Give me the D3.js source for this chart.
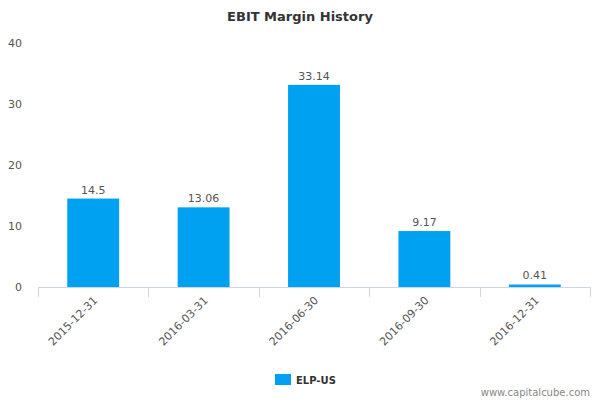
<!DOCTYPE html>
<html>
<head>
<meta charset="utf-8">
<script src="https://cdn.jsdelivr.net/npm/d3@7"></script>
<style>
  body { margin: 0; background: #fff; }
  text { font-family: "DejaVu Sans", sans-serif; }
</style>
</head>
<body>
<div id="chart"></div>
<script>
const categories = ["2015-12-31", "2016-03-31", "2016-06-30", "2016-09-30", "2016-12-31"]
const values = [14.5, 13.06, 33.14, 9.17, 0.41]
const yTicks = [0, 10, 20, 30, 40]
const seriesName = "ELP-US"

const width = 600, height = 400
const margin = { top: 43, right: 10, bottom: 113, left: 38 }
const blue = "#00a1f1"

const svg = d3.select("#chart").append("svg")
  .attr("width", width).attr("height", height)

const x = d3.scaleBand()
  .domain(categories)
  .range([margin.left, width - margin.right])
  .paddingInner(0.53).paddingOuter(0.265)

const y = d3.scaleLinear()
  .domain([0, 40])
  .range([height - margin.bottom, margin.top])

// title
svg.append("text")
  .attr("x", width / 2).attr("y", 21)
  .attr("text-anchor", "middle")
  .style("font-size", "13px").style("font-weight", "bold").style("fill", "#333")
  .text("EBIT Margin History")

// y labels
svg.selectAll(".ytick").data(yTicks).enter().append("text")
  .attr("x", 22).attr("y", d => y(d) + 4)
  .attr("text-anchor", "end")
  .style("font-size", "11px").style("fill", "#555")
  .text(d => d)

// bars
svg.selectAll(".bar").data(values).enter().append("rect")
  .attr("x", (d, i) => x(categories[i]))
  .attr("y", d => y(d))
  .attr("width", x.bandwidth())
  .attr("height", d => y(0) - y(d))
  .style("fill", blue)

svg.selectAll(".val").data(values).enter().append("text")
  .attr("x", (d, i) => x(categories[i]) + x.bandwidth() / 2)
  .attr("y", d => y(d) - 5)
  .attr("text-anchor", "middle")
  .style("font-size", "11px").style("fill", "#555")
  .text(d => d)

// x axis
const step = x.step()
const xAxis = svg.append("g")
xAxis.append("line")
  .attr("x1", margin.left).attr("x2", width - margin.right)
  .attr("y1", y(0) + 0.5).attr("y2", y(0) + 0.5)
  .style("stroke", "#ccd6eb")
d3.range(categories.length + 1).forEach(i => {
  const tx = Math.round(margin.left + i * step) + 0.5
  xAxis.append("line")
    .attr("x1", tx).attr("x2", tx)
    .attr("y1", y(0)).attr("y2", y(0) + 10)
    .style("stroke", "#ccd6eb")
})
xAxis.selectAll(".xl").data(categories).enter().append("text")
  .attr("transform", d => `translate(${x(d) + x.bandwidth() / 2 + 5},${y(0) + 14}) rotate(-45)`)
  .attr("text-anchor", "end")
  .style("font-size", "11px").style("fill", "#555")
  .text(d => d)

// legend
svg.append("rect")
  .attr("x", 275).attr("y", 374).attr("width", 16).attr("height", 11)
  .style("fill", blue)
svg.append("text")
  .attr("x", 296).attr("y", 384)
  .style("font-size", "10px").style("font-weight", "bold").style("fill", "#333")
  .text(seriesName)

// credit
svg.append("text")
  .attr("x", 590).attr("y", 396)
  .attr("text-anchor", "end")
  .style("font-size", "10px").style("fill", "#888")
  .text("www.capitalcube.com")
</script>
</body>
</html>
